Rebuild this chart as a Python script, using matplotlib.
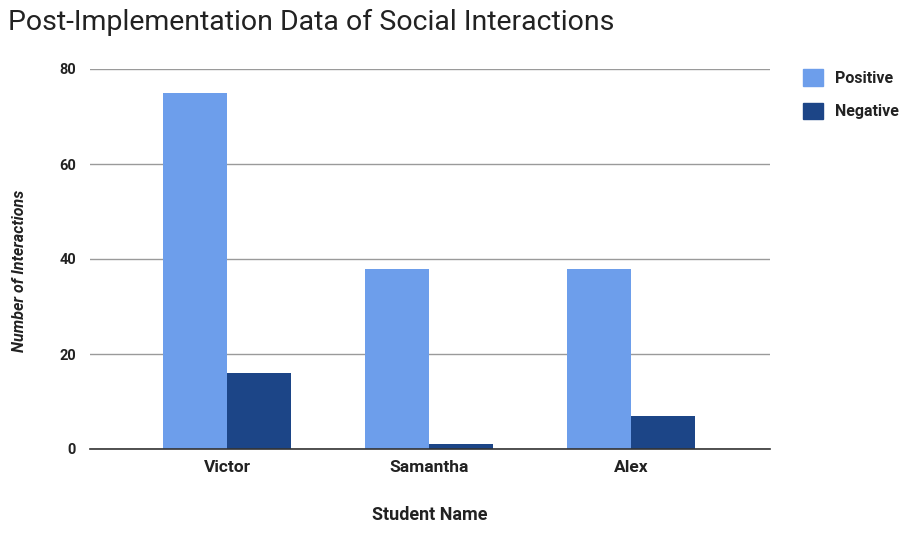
import numpy as np
import matplotlib.pyplot as plt
from matplotlib.patches import Patch

students = ["Victor", "Samantha", "Alex"]
positive = [75, 38, 38]
negative = [16, 1, 7]
yticks = [0, 20, 40, 60, 80]

plt.rcParams['font.family'] = ['Roboto', 'DejaVu Sans']

fig = plt.figure(figsize=(9.06, 5.36), dpi=100)
ax = fig.add_axes([90 / 906, 1 - 449 / 536, 680 / 906, 380 / 536])

x = np.arange(len(students))
w = 0.315
ax.bar(x - w / 2 - 0.002, positive, w, color="#6d9eeb", zorder=3)
ax.bar(x + w / 2 + 0.002, negative, w, color="#1c4587", zorder=3)

ax.set_xlim(-0.678, 2.688)
ax.set_ylim(0, 80)
ax.set_yticks(yticks)
ax.set_yticklabels([str(v) for v in yticks], fontsize=10.5, fontweight="bold", color="#222222")
ax.set_xticks(x)
ax.set_xticklabels(students, fontsize=12.5, fontweight="bold", color="#222222")
ax.tick_params(axis="both", length=0)
ax.tick_params(axis="y", pad=10)
ax.tick_params(axis="x", pad=8)

ax.grid(axis="y", color="#9a9a9a", linewidth=1, zorder=0)
for s in ["top", "right", "left"]:
    ax.spines[s].set_visible(False)
ax.spines["bottom"].set_color("#333333")
ax.spines["bottom"].set_linewidth(1.2)
ax.spines["bottom"].set_zorder(4)

ax.set_xlabel("Student Name", fontsize=13, fontweight="bold", color="#222222", labelpad=22)
ax.set_ylabel("Number of Interactions", fontsize=11.5, fontweight="bold", style="italic",
              color="#222222")
ax.yaxis.set_label_coords(-0.092, 0.468)

fig.text(8 / 906, 1 - 22 / 536, "Post-Implementation Data of Social Interactions",
         fontsize=20.5, color="#222222", va="center", ha="left")

handles = [Patch(color="#6d9eeb", label="Positive"), Patch(color="#1c4587", label="Negative")]
leg = fig.legend(handles=handles, loc="upper left", bbox_to_anchor=(789 / 906, 1 - 55 / 536),
                 frameon=False, prop={"weight": "bold", "size": 11.5}, handlelength=1.2,
                 handleheight=1.2, labelspacing=1.05, handletextpad=0.8)
for t in leg.get_texts():
    t.set_color("#222222")

fig.savefig("out.png", dpi=100)
